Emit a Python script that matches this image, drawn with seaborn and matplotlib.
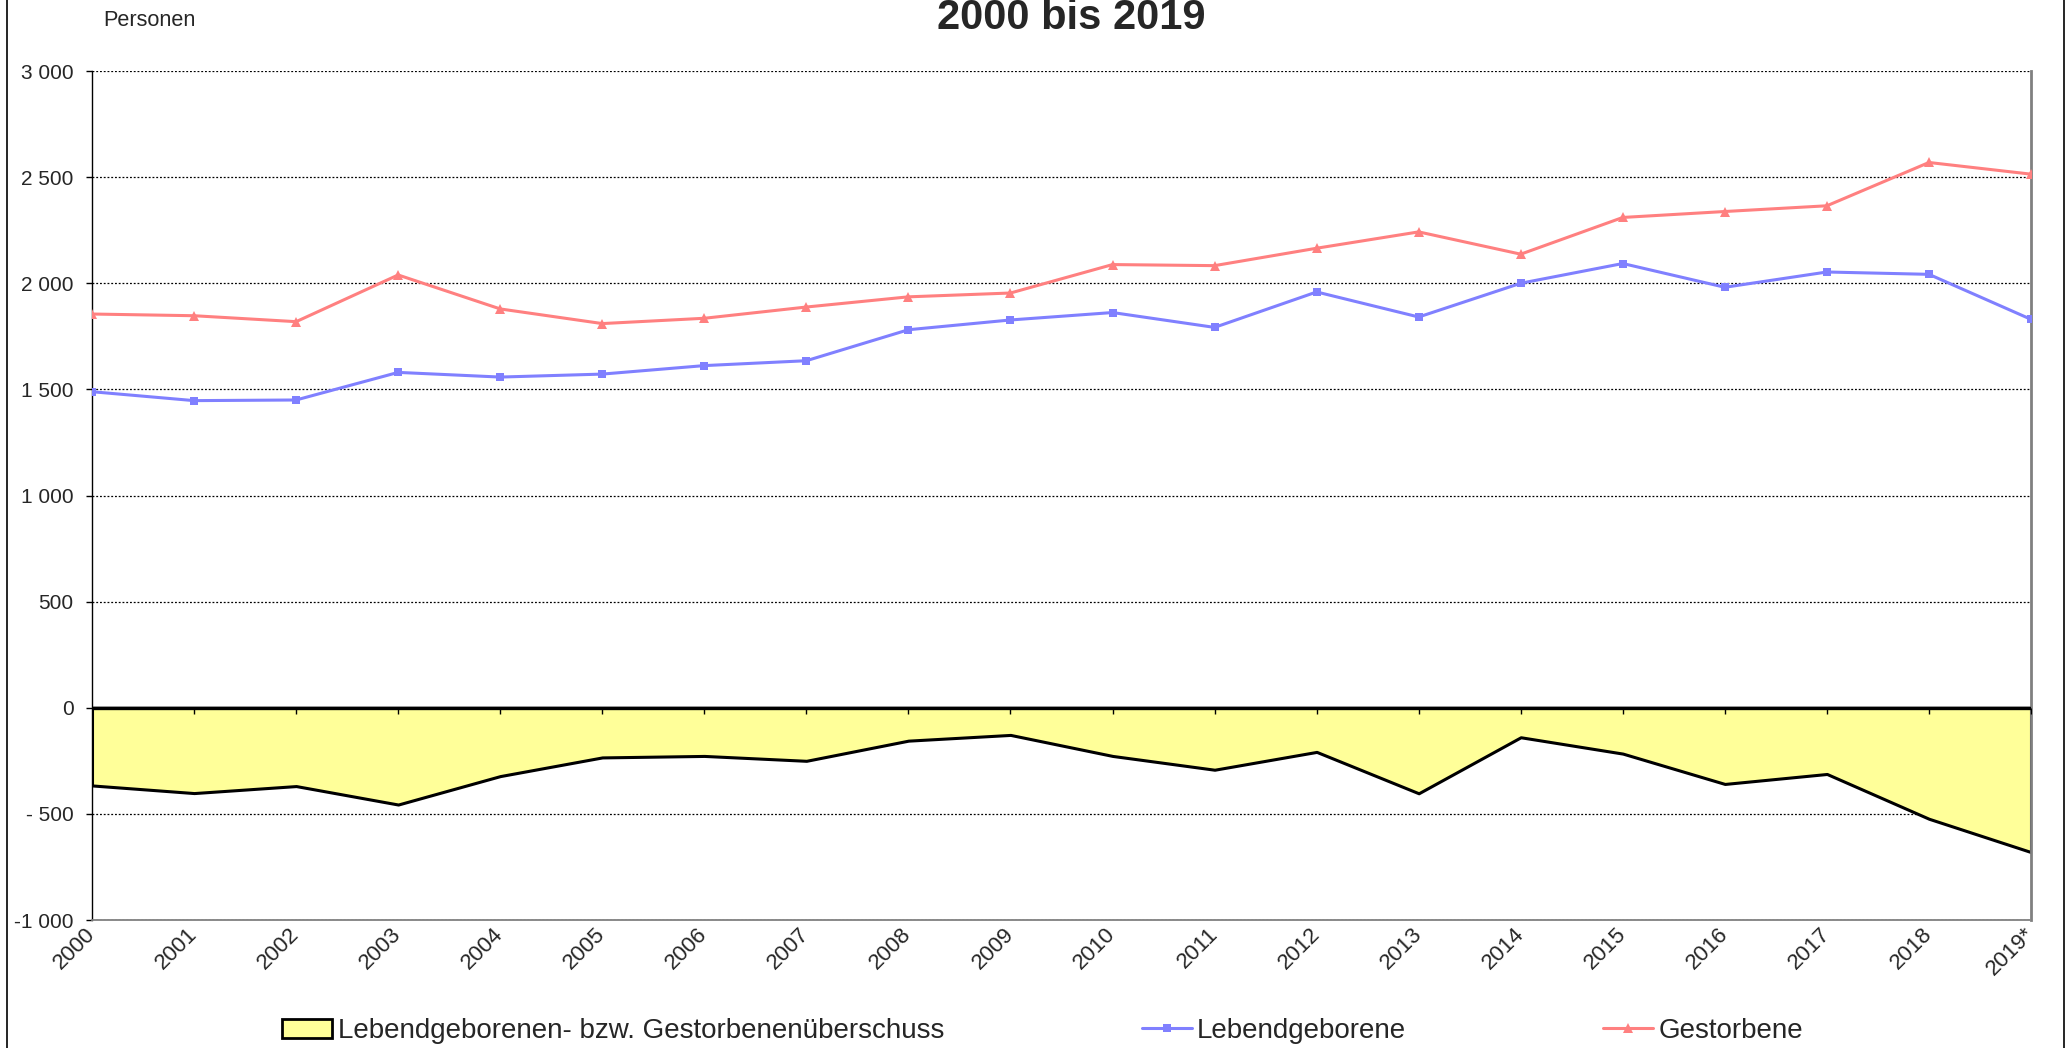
import numpy as np
import pandas as pd
import matplotlib
matplotlib.use('Agg')
import matplotlib.pyplot as plt
import matplotlib.markers as mmarkers
from matplotlib.lines import Line2D
from matplotlib.patches import Patch
import seaborn as sns

# ---------------- data ----------------
years = ['2000', '2001', '2002', '2003', '2004', '2005', '2006', '2007', '2008', '2009',
         '2010', '2011', '2012', '2013', '2014', '2015', '2016', '2017', '2018', '2019*']
lebendgeborene = [1489, 1447, 1450, 1580, 1558, 1572, 1612, 1635, 1781, 1827,
                  1862, 1792, 1959, 1841, 2000, 2093, 1981, 2053, 2042, 1830]
gestorbene = [1855, 1847, 1819, 2039, 1879, 1810, 1835, 1888, 1936, 1954,
              2088, 2083, 2165, 2242, 2137, 2310, 2338, 2365, 2569, 2514]
saldo = [-366, -402, -369, -456, -322, -234, -227, -250, -155, -128,
         -227, -292, -208, -403, -139, -216, -359, -312, -523, -680]
y_ticks = [-1000, -500, 0, 500, 1000, 1500, 2000, 2500, 3000]
y_tick_labels = ['-1 000', '- 500', '0', '500', '1 000', '1 500', '2 000', '2 500', '3 000']
legend_labels = ['Lebendgeborenen- bzw. Gestorbenenüberschuss', 'Lebendgeborene', 'Gestorbene']

df = pd.DataFrame({'pos': np.arange(len(years)), 'year': years,
                   'Lebendgeborene': lebendgeborene, 'Gestorbene': gestorbene,
                   'Saldo': saldo})

# ---------------- style ----------------
sns.set_style('white')
plt.rcParams['font.family'] = ['Liberation Sans', 'DejaVu Sans']

W, H = 2069, 1048
fig = plt.figure(figsize=(W / 100, H / 100), dpi=100)
ax = fig.add_axes([92 / W, 1 - 920 / H, 1939 / W, 849 / H])

col_lb = '#8080FF'
col_gs = '#FF8080'
col_fill = '#FFFF99'

# area (surplus of deaths)
ax.fill_between(df['pos'], df['Saldo'], 0, facecolor=col_fill, edgecolor='black',
                linewidth=2.2, zorder=2)
ax.axhline(0, color='black', lw=2.4, zorder=3)
ax.plot(df['pos'], np.zeros(len(df)), ls='none', marker=mmarkers.TICKDOWN,
        ms=4.5, mec='black', mew=1.0, zorder=3)

# lines
sns.lineplot(data=df, x='pos', y='Lebendgeborene', ax=ax, color=col_lb, lw=2.2,
             marker='s', markersize=6, markeredgewidth=0, zorder=4, legend=False)
sns.lineplot(data=df, x='pos', y='Gestorbene', ax=ax, color=col_gs, lw=2.2,
             marker='^', markersize=7.5, markeredgewidth=0, zorder=4, legend=False)

ax.set_xlim(0, len(years) - 1)
ax.set_ylim(-1000, 3000)
ax.set_xlabel('')
ax.set_ylabel('')

ax.set_yticks(y_ticks)
ax.set_yticklabels(y_tick_labels, fontsize=15)
ax.tick_params(axis='y', direction='out', length=4.3, width=1, color='black', pad=9, left=True)

ax.set_xticks(df['pos'])
ax.set_xticklabels(years, rotation=45, ha='right', va='center', rotation_mode='anchor', fontsize=16)
ax.tick_params(axis='x', length=0, pad=8)

ax.yaxis.grid(True, color='black', linestyle=(0, (1.5, 1.5)), lw=0.9)
ax.xaxis.grid(False)
ax.set_axisbelow(True)

ax.spines['top'].set_visible(False)
ax.spines['left'].set_color('black')
ax.spines['left'].set_linewidth(1.0)
ax.spines['right'].set_color('#808080')
ax.spines['right'].set_linewidth(2.0)
ax.spines['bottom'].set_color('#808080')
ax.spines['bottom'].set_linewidth(1.3)
ax.spines['bottom'].set_linestyle((0, (1, 1)))

# legend
handles = [Patch(facecolor=col_fill, edgecolor='black', lw=2),
           Line2D([], [], color=col_lb, lw=2.2, marker='s', ms=6, mew=0),
           Line2D([], [], color=col_gs, lw=2.2, marker='^', ms=7.5, mew=0)]
fig.legend(handles, legend_labels, loc='center', bbox_to_anchor=(1043 / W, 1 - 1031 / H),
           ncol=3, frameon=False, fontsize=20, handlelength=1.8, handleheight=0.68,
           handletextpad=0.2, columnspacing=7.1, borderpad=0, borderaxespad=0)

# texts
fig.text(103 / W, 1 - 20 / H, 'Personen', fontsize=15.6, ha='left', va='center')
fig.text(1071 / W, 1 - 29 / H, '2000 bis 2019', fontsize=30, fontweight='bold',
         ha='center', va='baseline')

# outer frame lines
fig.add_artist(Line2D([7 / W, 7 / W], [0, 1], transform=fig.transFigure, color='black', lw=1.2))
fig.add_artist(Line2D([2064 / W, 2064 / W], [0, 1], transform=fig.transFigure, color='black', lw=1.2))

fig.savefig('out.png', dpi=100)
